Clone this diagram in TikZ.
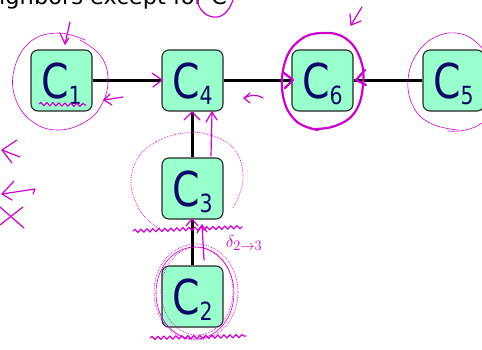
\documentclass[tikz,border=0pt]{standalone}
\usepackage{fontspec}
\newfontfamily\labfont[FakeStretch=0.82]{DejaVu Sans}
\newfontfamily\headfont{DejaVu Sans}
\usetikzlibrary{decorations.pathmorphing}
\definecolor{mint}{HTML}{99FFCC}
\definecolor{navy}{HTML}{0A0A66}
\definecolor{ink}{HTML}{CC00CC}
% cluster label: big C with a lowered index
\newcommand{\clab}[1]{{\fontsize{48}{48}\selectfont C}\raisebox{-6.5pt}{\fontsize{25}{25}\selectfont #1}}
\tikzset{
  cell/.style={draw=black!85, line width=1.1pt, fill=mint, rounded corners=7pt,
    minimum width=61pt, minimum height=61pt, inner sep=0pt, text=navy,
    font=\labfont, text height=35pt, text depth=0pt},
  link/.style={line width=2.4pt, draw=black},
  pen/.style={draw=ink, line width=1.2pt, line cap=round, line join=round},
  heavypen/.style={draw=ink, line width=2.2pt, line cap=round, line join=round},
  thinpen/.style={draw=ink, line width=0.6pt, line cap=round, line join=round},
  faintpen/.style={draw=ink, line width=0.7pt, densely dotted},
  wave/.style={decorate, decoration={snake, amplitude=1.6pt, segment length=6pt}},
}
\begin{document}
\begin{tikzpicture}[x=1pt,y=-1pt]
\useasboundingbox (0,0) rectangle (482,349);
\clip (0,0) rectangle (482,349);

% heading line, mostly above the frame
\node[anchor=base east, inner sep=0pt, font=\headfont\fontsize{22.5}{22.5}\selectfont] (head) at (227,4) {neighbors except for C};

% clusters
\node[cell] (c1) at (61.5,80.5) {\clab{1}};
\node[cell] (c4) at (192.5,80.5) {\clab{4}};
\node[cell] (c6) at (322.5,80.5) {\clab{6}};
\node[cell] (c5) at (453.5,80.5) {\clab{5}};
\node[cell] (c3) at (192.5,188.5) {\clab{3}};
\node[cell] (c2) at (192.5,296.5) {\clab{2}};

% tree edges
\draw[link] (c1) -- (c4);
\draw[link] (c4) -- (c6);
\draw[link] (c6) -- (c5);
\draw[link] (c4) -- (c3);
\draw[link] (c3) -- (c2);

% --- pen notes ---
% circle round the C in the heading
\draw[pen] (197,0) .. controls (200,14) and (210,18) .. (218,17) .. controls (226,15) and (230,8) .. (233,0);

% C1: loop, arrows, underline
\draw[thinpen] plot[smooth, tension=0.7] coordinates {(85,40) (58,33) (30,42) (14,70) (16,100) (33,122) (58,130) (85,122) (102,104) (108,78) (100,55) (80,40)};
\draw[pen] (70,22) -- (65,44);
\draw[pen] (60,33) -- (65,44) -- (69,38);
\draw[pen] (123,97) -- (104,100);
\draw[pen] (110,94) -- (104,100) -- (112,105);
\draw[pen, wave] (39,104) -- (86,105);

% arrow into C4 from C1
\draw[pen] (152,73) -- (162,80) -- (153,87);

% small hook between C4 and C6
\draw[pen] (263,98) .. controls (256,94) and (250,95) .. (244,98);
\draw[pen] (250,93) -- (244,98) -- (250,103);

% C6: heavy loop with two incoming arrows
\draw[heavypen] plot[smooth, tension=0.7] coordinates {(318,130) (296,121) (283,96) (285,62) (300,40) (322,33) (345,38) (360,58) (363,85) (355,112) (335,126) (312,129)};
\draw[heavypen] (284,73) -- (293,80) -- (285,88);
\draw[heavypen] (365,70) -- (356,80) -- (366,85);
\draw[pen] (362,7) -- (351,25);
\draw[pen] (350,14) -- (351,25) -- (361,21);

% C5 loop
\draw[thinpen] plot[smooth, tension=0.7] coordinates {(482,48) (465,35) (440,35) (418,52) (408,80) (414,108) (432,124) (458,130)};
\draw[thinpen] (448,131) .. controls (460,132) and (472,130) .. (482,123);

% C3: dotted loop and messages up to C4
\draw[faintpen] plot[smooth, tension=0.7] coordinates {(233,208) (243,180) (235,150) (210,135) (185,133) (160,140) (140,155) (131,180) (137,205) (150,222) (160,228)};
\draw[pen] (184,120) -- (192,112) -- (200,120);
\draw[pen] (211,156) -- (212,112);
\draw[pen] (206,122) -- (212,112) -- (217,120);
\draw[pen, wave] (133,231) -- (242,227);
\draw[pen] (186,226) -- (192,219) -- (198,226);

% message from C2 to C3
\draw[pen] (204,260) -- (202,225);
\draw[pen] (197,233) -- (202,225) -- (207,232);
\node[text=ink, inner sep=0pt, font=\fontsize{19}{19}\selectfont] (delta) at (244,243) {$\delta_{2\to 3}$};

% C2: repeated loops and underline
\draw[faintpen] (196,292) ellipse [x radius=42, y radius=48];
\draw[thinpen] (195,293) ellipse [x radius=39, y radius=46];
\draw[faintpen] (197,291) ellipse [x radius=36, y radius=44];
\draw[pen, wave] (150,338) -- (246,336);

% marks at the left edge
\draw[pen] (17,140) -- (2,150) -- (12,163);
\draw[pen] (2,150) -- (20,157);
\draw[pen] (14,181) -- (2,194) -- (12,200);
\draw[pen] (2,194) -- (35,189) -- (33,194);
\draw[pen] (0,207) -- (24,228);
\draw[pen] (23,207) -- (0,225);
\end{tikzpicture}
\end{document}
